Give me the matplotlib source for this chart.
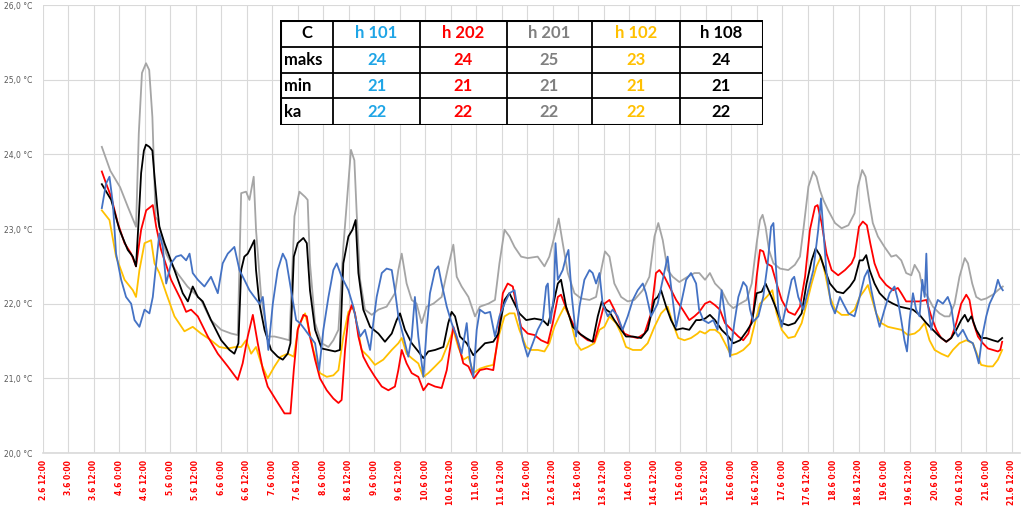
import matplotlib.pyplot as plt

# x values are hours counted from 2.6 0:00
t_h201 = [39.7, 43.7, 48.3, 51.9, 55.8, 57.1, 58.6, 60.5, 62.0, 63.5, 65.0, 66.0, 70.0, 72.3, 75.5, 80.0,
          83.3, 86.4, 91.0, 95.9, 100.6, 103.7, 105.3, 107.6, 109.2, 111.2, 112.3, 114.7, 117.8, 121.0,
          124.0, 128.0, 130.4, 132.7, 135.4, 136.6, 137.7, 140.1, 143.2, 146.4, 148.7, 151.1, 153.4,
          155.5, 157.0, 158.6, 159.7, 161.3, 163.6, 166.8, 169.9, 173.8, 177.7, 179.3, 180.9, 183.2,
          185.6, 187.9, 190.3, 192.6, 195.8, 199.7, 202.8, 205.2, 206.8, 209.1, 212.3, 215.4, 217.7,
          221.7, 224.8, 226.9, 229.3, 231.6, 234.0, 237.1, 240.2, 244.9, 248.1, 250.4, 252.0, 253.6,
          254.8, 256.7, 259.1, 262.2, 265.3, 269.3, 272.4, 274.8, 276.6, 278.7, 281.0, 284.2, 287.3,
          290.4, 294.4, 297.5, 299.9, 301.7, 303.8, 306.1, 308.5, 311.6, 315.5, 318.7, 321.0, 323.7,
          326.0, 328.4, 331.5, 334.7, 337.0, 340.2, 343.3, 345.7, 348.0, 349.6, 350.8, 352.2, 353.8,
          355.9, 359.0, 362.9, 366.0, 368.4, 370.0, 372.4, 374.7, 376.2, 377.8, 379.4, 381.7, 384.9,
          388.0, 391.2, 394.1, 395.7, 397.7, 399.3, 400.9, 402.7, 405.1, 408.2, 411.4, 413.7, 416.1,
          418.4, 420.8, 422.4, 424.7, 426.3, 428.6, 431.0, 434.1, 436.5, 438.8, 441.2, 443.5, 446.0,
          447.5, 449.5, 451.4, 453.7, 456.1, 459.2, 461.6, 463.9]
v_h201 = [24.10, 23.78, 23.56, 23.30, 23.03, 24.28, 25.09, 25.22, 25.13, 24.50, 23.16, 23.12, 22.67,
          22.54, 22.40, 22.23, 22.14, 22.05, 21.78, 21.65, 21.60, 21.58, 23.48, 23.50, 23.39, 23.70,
          22.99, 22.09, 21.56, 21.56, 21.54, 21.51, 23.17, 23.50, 23.43, 23.39, 22.54, 21.74, 21.47,
          21.42, 21.51, 21.65, 22.76, 23.52, 24.06, 23.92, 23.21, 22.32, 21.92, 21.85, 21.92, 21.96,
          22.14, 22.45, 22.67, 22.27, 22.05, 22.00, 21.74, 21.96, 22.00, 22.09, 22.50, 22.79, 22.36,
          22.23, 22.09, 21.83, 21.96, 22.00, 22.05, 22.54, 22.99, 22.90, 22.76, 22.63, 22.61, 22.63,
          22.50, 22.63, 22.81, 22.99, 23.14, 22.81, 22.41, 22.14, 22.07, 22.05, 22.09, 22.45, 22.70,
          22.63, 22.27, 22.09, 22.03, 22.05, 22.18, 22.36, 22.90, 23.08, 22.85, 22.45, 22.36, 22.29,
          22.36, 22.41, 22.41, 22.32, 22.41, 22.27, 22.18, 22.00, 21.94, 22.00, 22.05, 22.27, 22.81,
          23.12, 23.19, 23.03, 22.72, 22.54, 22.47, 22.45, 22.52, 22.63, 22.99, 23.57, 23.77, 23.70,
          23.52, 23.39, 23.25, 23.08, 23.01, 23.05, 23.21, 23.57, 23.79, 23.70, 23.39, 23.08, 22.90,
          22.76, 22.63, 22.65, 22.58, 22.41, 22.38, 22.52, 22.41, 22.18, 22.09, 21.96, 21.87, 21.83,
          21.83, 22.00, 22.36, 22.61, 22.54, 22.27, 22.09, 22.05, 22.07, 22.12, 22.18, 22.23]

t_h108 = [39.7, 44.1, 48.0, 51.9, 54.3, 55.8, 57.0, 58.2, 59.5, 60.5, 62.1, 63.5, 64.5, 65.8, 66.8, 69.2,
          73.9, 77.8, 80.2, 82.5, 84.9, 87.2, 91.1, 95.9, 99.8, 102.1, 104.0, 105.3, 106.8, 108.4,
          110.0, 111.5, 112.3, 113.9, 116.3, 119.4, 122.5, 124.9, 127.2, 128.5, 130.1, 131.9, 134.6,
          136.2, 137.7, 140.1, 143.2, 146.4, 149.5, 151.8, 153.4, 155.8, 157.7, 159.2, 160.5, 162.8,
          166.0, 169.9, 173.0, 176.2, 178.5, 180.1, 182.4, 185.6, 188.7, 191.1, 193.4, 196.6, 200.5,
          202.8, 204.4, 206.0, 208.3, 211.5, 214.6, 217.0, 220.1, 224.0, 226.4, 229.3, 231.6, 234.0,
          236.3, 239.5, 243.4, 247.3, 249.7, 252.0, 254.4, 255.9, 258.3, 261.4, 264.6, 267.7, 270.8,
          273.2, 275.1, 277.1, 278.7, 281.0, 284.2, 286.5, 289.7, 293.6, 296.7, 299.9, 301.4, 303.0,
          305.4, 307.7, 310.1, 313.2, 316.3, 319.5, 321.3, 323.7, 326.0, 328.4, 331.5, 334.7, 337.0,
          340.2, 343.3, 345.7, 348.0, 350.4, 352.2, 355.0, 357.4, 359.8, 362.9, 366.0, 369.2, 371.5,
          373.9, 375.8, 377.8, 380.2, 382.5, 385.7, 388.8, 391.9, 394.1, 396.5, 398.0, 399.6, 401.2,
          403.5, 405.9, 409.0, 412.2, 415.3, 418.4, 421.6, 424.7, 427.9, 431.0, 434.1, 437.3, 439.6,
          442.0, 444.3, 446.0, 447.5, 449.1, 451.4, 453.7, 456.1, 459.2, 461.6, 463.6]
v_h108 = [23.60, 23.39, 22.99, 22.72, 22.63, 22.50, 23.10, 23.75, 24.05, 24.13, 24.10, 24.05, 23.70,
          23.29, 23.03, 22.81, 22.45, 22.14, 22.03, 22.23, 22.09, 22.03, 21.78, 21.51, 21.38, 21.33,
          21.47, 22.45, 22.63, 22.67, 22.76, 22.85, 22.45, 22.00, 21.65, 21.38, 21.29, 21.25, 21.33,
          21.47, 22.63, 22.81, 22.88, 22.81, 22.18, 21.65, 21.40, 21.38, 21.36, 21.38, 22.54, 22.90,
          22.99, 23.12, 22.41, 21.92, 21.69, 21.60, 21.49, 21.60, 21.78, 21.87, 21.65, 21.47, 21.36,
          21.27, 21.36, 21.38, 21.42, 21.74, 21.89, 21.83, 21.56, 21.47, 21.31, 21.38, 21.47, 21.49,
          21.60, 22.05, 22.14, 22.00, 21.87, 21.78, 21.80, 21.78, 21.71, 21.96, 22.27, 22.32, 21.96,
          21.69, 21.60, 21.54, 21.49, 21.83, 22.03, 21.92, 21.89, 21.78, 21.65, 21.56, 21.56, 21.54,
          21.65, 22.05, 22.09, 22.18, 21.96, 21.78, 21.65, 21.67, 21.65, 21.78, 21.78, 21.80, 21.85,
          21.78, 21.65, 21.56, 21.47, 21.51, 21.63, 21.74, 22.14, 22.16, 22.27, 22.09, 21.92, 21.74,
          21.71, 21.74, 21.87, 22.27, 22.58, 22.74, 22.65, 22.45, 22.27, 22.16, 22.14, 22.23, 22.32,
          22.58, 22.58, 22.65, 22.45, 22.27, 22.14, 22.05, 22.00, 21.96, 21.94, 21.92, 21.85, 21.74,
          21.65, 21.56, 21.49, 21.54, 21.65, 21.78, 21.85, 21.76, 21.83, 21.65, 21.54, 21.54, 21.51,
          21.49, 21.54]

t_h202 = [39.7, 41.7, 44.1, 47.2, 50.4, 53.5, 55.8, 58.2, 60.6, 63.7, 65.3, 67.6, 72.3, 77.0, 79.4, 81.7,
          84.9, 89.6, 94.3, 99.0, 103.7, 106.0, 108.4, 110.8, 113.1, 115.5, 117.8, 121.7, 125.7, 128.5,
          130.1, 131.9, 134.6, 136.2, 137.7, 140.1, 142.4, 145.6, 148.7, 151.1, 152.6, 154.2, 155.8,
          157.3, 158.9, 160.5, 162.8, 165.2, 168.3, 171.5, 174.6, 177.7, 179.3, 180.9, 183.2, 185.6,
          188.7, 191.1, 193.4, 196.6, 199.7, 202.1, 205.2, 207.5, 209.9, 212.3, 214.9, 217.7, 220.9,
          224.0, 226.2, 228.5, 230.8, 233.2, 234.7, 237.1, 240.2, 243.4, 246.5, 249.7, 252.0, 254.4,
          255.9, 257.5, 259.9, 262.2, 265.3, 268.5, 271.6, 274.0, 276.3, 278.7, 281.0, 283.4, 285.7,
          288.9, 292.0, 295.2, 298.3, 300.6, 302.2, 304.6, 306.9, 310.1, 313.2, 316.3, 318.7, 321.0,
          323.7, 326.0, 328.4, 330.7, 333.1, 336.2, 339.4, 341.7, 344.1, 346.4, 348.0, 349.6, 351.1,
          352.7, 355.1, 357.4, 359.8, 362.9, 366.0, 368.4, 370.8, 373.1, 375.5, 376.7, 378.6, 380.9,
          383.3, 386.4, 389.6, 392.7, 394.1, 396.2, 398.0, 399.9, 401.5, 403.5, 405.9, 409.0, 412.2,
          414.5, 416.1, 418.4, 421.6, 424.7, 427.9, 430.2, 432.6, 434.9, 437.3, 439.6, 442.0, 444.3,
          446.7, 448.2, 450.1, 452.2, 454.5, 456.9, 459.2, 461.6, 462.7, 463.6]
v_h202 = [23.77, 23.61, 23.43, 23.08, 22.81, 22.67, 22.50, 22.99, 23.25, 23.32, 23.03, 22.72, 22.32,
          22.05, 21.89, 21.92, 21.83, 21.56, 21.33, 21.16, 20.98, 21.20, 21.56, 21.85, 21.47, 21.12,
          20.89, 20.71, 20.53, 20.53, 21.12, 21.65, 21.85, 21.83, 21.56, 21.25, 21.00, 20.84, 20.73,
          20.67, 20.71, 21.38, 21.83, 21.98, 21.87, 21.56, 21.29, 21.16, 21.02, 20.89, 20.84, 20.89,
          21.11, 21.38, 21.20, 21.07, 21.02, 20.84, 20.93, 20.89, 20.87, 21.11, 21.69, 21.47, 21.20,
          21.16, 21.00, 21.11, 21.13, 21.11, 21.55, 22.14, 22.27, 22.23, 22.00, 21.69, 21.60, 21.58,
          21.51, 21.47, 21.74, 22.09, 22.12, 22.00, 21.83, 21.69, 21.58, 21.51, 21.49, 21.74, 22.00,
          22.05, 21.92, 21.74, 21.60, 21.56, 21.54, 21.60, 21.87, 22.41, 22.45, 22.36, 22.23, 22.05,
          21.92, 21.78, 21.83, 21.89, 22.00, 22.03, 21.98, 21.92, 21.74, 21.65, 21.56, 21.51, 21.60,
          21.87, 22.36, 22.72, 22.70, 22.54, 22.50, 22.27, 22.05, 21.89, 21.85, 21.96, 22.36, 22.99,
          23.30, 23.32, 23.08, 22.67, 22.45, 22.38, 22.45, 22.54, 22.63, 23.03, 23.10, 23.05, 22.81,
          22.54, 22.36, 22.25, 22.18, 22.21, 22.14, 22.03, 22.03, 22.03, 22.05, 21.83, 21.65, 21.54,
          21.49, 21.54, 21.74, 22.00, 22.12, 22.05, 21.74, 21.56, 21.47, 21.40, 21.38, 21.36, 21.38,
          21.49]

t_h102 = [39.7, 43.3, 46.4, 50.4, 54.3, 55.8, 57.4, 59.8, 62.9, 64.5, 66.8, 70.0, 73.9, 78.6, 82.5, 86.4,
          91.1, 95.0, 98.9, 102.8, 105.3, 107.6, 110.0, 112.3, 114.7, 117.8, 121.0, 124.0, 127.2,
          130.1, 132.2, 135.4, 136.9, 139.3, 142.4, 145.6, 148.7, 151.1, 153.4, 155.8, 158.1, 159.7,
          162.0, 165.2, 168.3, 172.2, 176.2, 179.3, 180.9, 183.2, 185.6, 188.7, 191.1, 193.4, 196.6,
          199.7, 202.8, 205.2, 207.5, 209.9, 212.3, 214.6, 217.7, 220.9, 224.0, 226.9, 229.3, 231.6,
          234.0, 236.3, 239.5, 241.8, 245.0, 248.1, 250.4, 252.8, 255.1, 257.5, 259.9, 263.0, 265.3,
          268.5, 271.6, 274.0, 276.3, 278.7, 281.8, 284.2, 286.5, 289.7, 293.6, 296.7, 299.9, 303.0,
          306.1, 308.5, 311.1, 314.0, 317.1, 320.2, 321.3, 323.7, 326.0, 328.4, 330.7, 333.1, 335.9,
          338.6, 341.7, 344.9, 347.2, 349.6, 352.7, 355.4, 357.4, 359.8, 362.9, 366.0, 369.2, 371.5,
          373.9, 376.2, 378.3, 380.2, 382.5, 384.9, 388.0, 391.2, 394.1, 396.5, 398.8, 400.4, 402.0,
          404.3, 406.7, 409.8, 412.9, 416.1, 419.2, 422.4, 424.7, 427.1, 429.4, 431.8, 434.9, 438.1,
          440.4, 443.5, 446.7, 449.8, 452.2, 453.7, 456.9, 459.2, 461.6, 463.6]
v_h102 = [23.25, 23.12, 22.63, 22.32, 22.18, 22.09, 22.45, 22.81, 22.85, 22.54, 22.41, 22.14, 21.83,
          21.63, 21.69, 21.60, 21.51, 21.42, 21.40, 21.42, 21.42, 21.51, 21.33, 21.42, 21.20, 21.00,
          21.16, 21.29, 21.33, 21.29, 21.69, 21.87, 21.69, 21.38, 21.07, 21.02, 21.04, 21.11, 21.56,
          21.89, 21.96, 21.74, 21.38, 21.29, 21.18, 21.25, 21.38, 21.47, 21.54, 21.33, 21.27, 21.20,
          21.02, 21.07, 21.16, 21.25, 21.47, 21.65, 21.42, 21.25, 21.29, 21.07, 21.13, 21.16, 21.18,
          21.60, 21.83, 21.87, 21.87, 21.65, 21.42, 21.38, 21.38, 21.36, 21.47, 21.69, 21.83, 21.96,
          21.83, 21.47, 21.38, 21.42, 21.47, 21.65, 21.69, 21.83, 21.74, 21.60, 21.42, 21.38, 21.38,
          21.47, 21.69, 21.87, 21.96, 21.74, 21.54, 21.51, 21.54, 21.60, 21.63, 21.60, 21.65, 21.65,
          21.60, 21.47, 21.31, 21.33, 21.38, 21.47, 21.74, 22.00, 22.09, 22.18, 21.87, 21.65, 21.54,
          21.56, 21.74, 22.00, 22.27, 22.50, 22.63, 22.41, 22.09, 21.92, 21.85, 21.85, 21.92, 22.09,
          22.18, 22.25, 22.09, 21.87, 21.74, 21.69, 21.67, 21.65, 21.58, 21.60, 21.65, 21.74, 21.51,
          21.38, 21.33, 21.29, 21.38, 21.47, 21.51, 21.47, 21.29, 21.18, 21.16, 21.16, 21.25, 21.38]

t_h101 = [39.7, 41.7, 43.3, 44.9, 46.4, 48.8, 51.1, 53.5, 55.1, 57.4, 59.8, 62.1, 63.7, 65.3, 66.8, 68.4,
          70.0, 72.3, 74.7, 77.0, 79.4, 81.0, 82.5, 84.9, 88.0, 91.1, 94.3, 96.6, 99.0, 102.1, 104.5,
          106.8, 109.2, 111.5, 113.9, 115.5, 117.0, 118.1, 120.2, 122.5, 124.9, 126.5, 128.8, 131.2,
          133.0, 135.4, 137.7, 140.1, 142.0, 144.0, 146.4, 148.7, 150.3, 152.6, 155.8, 158.1, 159.7,
          161.3, 163.6, 166.0, 167.5, 169.1, 171.5, 173.8, 176.2, 177.7, 179.3, 181.7, 184.0, 185.6,
          187.1, 188.7, 190.3, 191.1, 192.6, 194.2, 196.6, 198.1, 199.7, 202.1, 204.4, 206.8, 209.1,
          211.5, 213.0, 214.6, 216.2, 217.7, 220.1, 222.5, 224.8, 226.9, 229.3, 231.6, 234.0, 235.5,
          237.9, 240.2, 242.6, 244.9, 247.3, 248.9, 249.7, 250.9, 252.5, 253.3, 254.4, 256.7, 258.3,
          259.4, 261.0, 263.0, 264.6, 266.9, 269.3, 270.8, 272.4, 274.0, 275.5, 277.9, 280.2, 282.6,
          284.9, 287.3, 289.7, 292.0, 294.4, 295.9, 298.3, 301.4, 303.8, 306.1, 307.7, 310.1, 312.4,
          314.8, 317.1, 319.5, 320.9, 322.9, 325.3, 327.6, 329.6, 331.5, 333.4, 335.5, 337.5, 339.4,
          341.7, 343.3, 344.9, 346.4, 348.8, 351.1, 353.2, 354.8, 355.9, 357.0, 358.2, 359.8, 362.1,
          364.5, 365.7, 367.6, 370.0, 372.3, 374.7, 377.0, 378.3, 379.4, 380.9, 383.0, 384.9, 387.2,
          388.8, 391.2, 394.1, 396.5, 398.8, 400.4, 402.0, 404.3, 405.9, 408.2, 410.6, 412.9, 414.5,
          416.1, 417.6, 418.8, 420.0, 421.6, 423.1, 424.7, 426.0, 427.1, 427.9, 428.6, 430.2, 431.8,
          433.3, 435.7, 438.0, 439.6, 441.2, 442.8, 445.1, 447.5, 449.8, 451.4, 452.6, 454.2, 456.1,
          457.7, 460.0, 461.6, 462.7, 463.9]
v_h101 = [23.28, 23.61, 23.70, 23.34, 22.67, 22.32, 22.09, 22.00, 21.78, 21.69, 21.92, 21.87, 22.09,
          22.54, 22.94, 22.76, 22.27, 22.54, 22.63, 22.65, 22.58, 22.67, 22.41, 22.32, 22.23, 22.36,
          22.14, 22.54, 22.67, 22.76, 22.45, 22.32, 22.18, 22.09, 22.00, 22.09, 21.69, 21.38, 22.00,
          22.45, 22.67, 22.58, 22.18, 21.78, 21.74, 21.65, 21.56, 21.47, 21.11, 21.65, 22.09, 22.45,
          22.54, 22.36, 22.18, 21.96, 21.74, 21.56, 21.65, 21.38, 21.74, 22.09, 22.41, 22.47, 22.45,
          22.18, 21.83, 21.56, 21.29, 21.56, 22.09, 21.56, 21.20, 21.02, 21.65, 22.14, 22.45, 22.50,
          22.27, 21.96, 21.74, 21.56, 21.33, 21.74, 21.25, 21.02, 21.65, 21.92, 21.87, 21.89, 21.56,
          21.83, 22.00, 22.14, 22.18, 21.92, 21.51, 21.29, 21.47, 21.65, 21.78, 22.23, 22.27, 21.74,
          22.09, 22.81, 22.32, 22.45, 22.63, 22.72, 22.09, 21.56, 21.96, 22.32, 22.45, 22.41, 22.27,
          22.41, 22.00, 21.83, 21.92, 21.83, 21.65, 21.83, 22.05, 22.18, 22.27, 22.14, 21.83, 22.00,
          22.32, 22.63, 22.23, 21.69, 22.00, 22.32, 22.41, 22.27, 21.92, 21.78, 21.74, 21.78, 21.65,
          22.18, 21.78, 21.29, 21.74, 22.09, 22.29, 22.23, 21.92, 21.76, 21.83, 22.09, 22.54, 23.03,
          23.08, 22.54, 21.92, 21.69, 22.00, 22.32, 22.36, 22.09, 21.92, 22.18, 22.45, 22.99, 23.41,
          22.99, 22.41, 22.00, 21.87, 22.09, 22.00, 21.87, 21.83, 22.09, 22.36, 22.45, 22.18, 21.87,
          21.69, 21.92, 22.14, 22.23, 22.05, 21.78, 21.51, 21.36, 21.78, 22.14, 21.92, 21.83, 22.32,
          22.09, 22.67, 22.00, 21.65, 21.92, 22.05, 22.00, 22.09, 21.96, 21.65, 21.56, 21.65, 21.51,
          21.47, 21.33, 21.20, 21.56, 21.83, 22.00, 22.14, 22.32, 22.23, 22.18]

tick_hours = list(range(12, 469, 12))
tick_labels = ['2.6 12:00', '3.6 0:00', '3.6 12:00', '4.6 0:00', '4.6 12:00', '5.6 0:00', '5.6 12:00',
               '6.6 0:00', '6.6 12:00', '7.6 0:00', '7.6 12:00', '8.6 0:00', '8.6 12:00', '9.6 0:00',
               '9.6 12:00', '10.6 0:00', '10.6 12:00', '11.6 0:00', '11.6 12:00', '12.6 0:00',
               '12.6 12:00', '13.6 0:00', '13.6 12:00', '14.6 0:00', '14.6 12:00', '15.6 0:00',
               '15.6 12:00', '16.6 0:00', '16.6 12:00', '17.6 0:00', '17.6 12:00', '18.6 0:00',
               '18.6 12:00', '19.6 0:00', '19.6 12:00', '20.6 0:00', '20.6 12:00', '21.6 0:00',
               '21.6 12:00']
y_ticks = [20, 21, 22, 23, 24, 25, 26]
y_labels = ['20,0 °C', '21,0 °C', '22,0 °C', '23,0 °C', '24,0 °C', '25,0 °C', '26,0 °C']

# summary table
table_header = ['C', 'h 101', 'h 202', 'h 201', 'h 102', 'h 108']
table_rows = ['maks', 'min', 'ka']
maks = [24, 24, 25, 23, 24]
mins = [21, 21, 21, 21, 21]
ka = [22, 22, 22, 22, 22]
table_colors = ['#1FA5E6', '#FF0000', '#808080', '#FFC000', '#000000']

fig = plt.figure(figsize=(10.24, 5.15), dpi=100)
ax = fig.add_axes([43 / 1024, 62 / 515, 977 / 1024, 448 / 515])

ax.plot(t_h201, v_h201, color='#A5A5A5', lw=1.3)
ax.plot(t_h102, v_h102, color='#FFC000', lw=1.3)
ax.plot(t_h202, v_h202, color='#FF0000', lw=1.3)
ax.plot(t_h108, v_h108, color='#000000', lw=1.3)
ax.plot(t_h101, v_h101, color='#4472C4', lw=1.3)

ax.set_xlim(12, 472)
ax.set_ylim(20, 26)
ax.set_xticks(tick_hours)
ax.set_xticklabels(tick_labels, rotation=90, color='#FF0000', fontsize=5.5, fontweight='bold')
ax.set_yticks(y_ticks)
ax.set_yticklabels(y_labels, color='#595959', fontsize=5.5)
ax.tick_params(axis='x', length=0, pad=5)
ax.tick_params(axis='y', length=0, pad=8)
ax.grid(True, color='#D9D9D9', lw=0.8)
ax.set_axisbelow(True)
for s in ['top', 'right', 'left']:
    ax.spines[s].set_visible(False)
ax.spines['bottom'].set_color('#D9D9D9')
ax.spines['bottom'].set_linewidth(1.2)

# table drawn in pixel units of its own box
tab = fig.add_axes([280 / 1024, 1 - 125 / 515, 483 / 1024, 105 / 515])
col_x = [0, 53, 140, 227, 312, 400, 483]
row_y = [0, 26.7, 53.3, 78.3, 105]
tab.set_xlim(0, 483)
tab.set_ylim(105, 0)
tab.axis('off')
tab.add_patch(plt.Rectangle((0, 0), 483, 105, facecolor='white', edgecolor='none'))
for x in col_x[1:-1]:
    tab.plot([x, x], [0, 105], color='black', lw=1.3, solid_capstyle='butt')
for y in row_y[1:-1]:
    tab.plot([0, 483], [y, y], color='black', lw=1.3, solid_capstyle='butt')
tab.add_patch(plt.Rectangle((0, 0), 483, 105, facecolor='none', edgecolor='black', lw=2.2))

fnt = dict(family=['Lato', 'DejaVu Sans'], fontsize=12, fontweight='bold', va='center')
tab.text((col_x[0] + col_x[1]) / 2, (row_y[0] + row_y[1]) / 2, table_header[0], ha='center',
         color='black', **fnt)
for i in range(5):
    cx = (col_x[i + 1] + col_x[i + 2]) / 2
    tab.text(cx, (row_y[0] + row_y[1]) / 2, table_header[i + 1], ha='center', color=table_colors[i], **fnt)
    for r, vals in enumerate([maks, mins, ka]):
        tab.text(cx, (row_y[r + 1] + row_y[r + 2]) / 2, str(vals[i]), ha='center',
                 color=table_colors[i], **fnt)
for r, name in enumerate(table_rows):
    tab.text(4, (row_y[r + 1] + row_y[r + 2]) / 2, name, ha='left', color='black', **fnt)

fig.savefig('out.png', dpi=100)
